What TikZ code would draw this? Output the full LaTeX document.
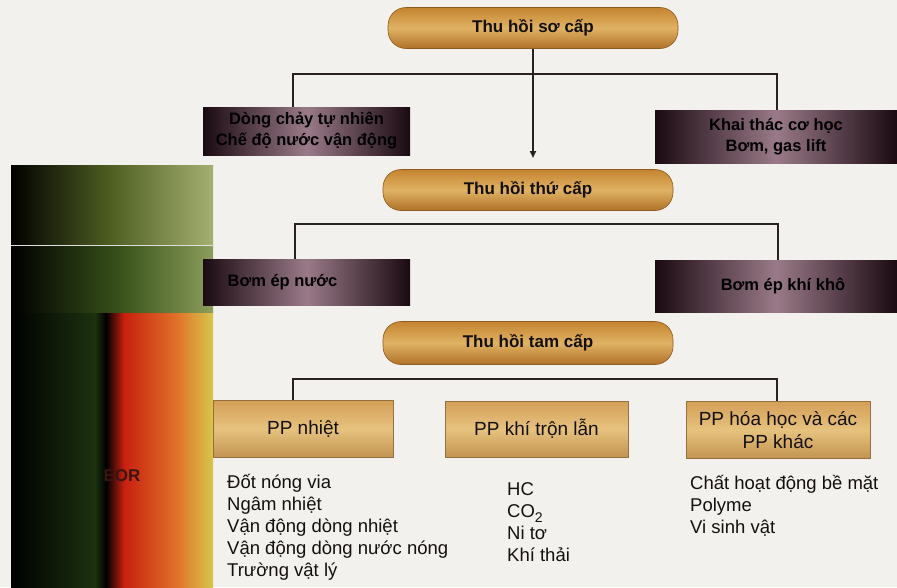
\documentclass[tikz,border=0pt]{standalone}
\usepackage{fontspec}
\setmainfont{Liberation Sans}
\usetikzlibrary{arrows.meta}
\definecolor{bg}{HTML}{F3F1EE}
\definecolor{pillA}{HTML}{C4842F}
\definecolor{pillB}{HTML}{E0B264}
\definecolor{pillC}{HTML}{B07228}
\definecolor{mauve}{HTML}{9A7A88}
\definecolor{darkend}{HTML}{1A0A12}
\definecolor{ppA}{HTML}{D4A058}
\definecolor{ppB}{HTML}{E6C27E}
\definecolor{linec}{HTML}{2A2222}
\definecolor{txt}{HTML}{141010}
\definecolor{olivA}{HTML}{4E5E22}
\definecolor{olivB}{HTML}{A4B070}
\definecolor{greenB}{HTML}{38521A}
\definecolor{greenC}{HTML}{8C9E5C}
\definecolor{dkgreen}{HTML}{1C3210}
\definecolor{redA}{HTML}{C82010}
\definecolor{orangeA}{HTML}{E07028}
\definecolor{yellowA}{HTML}{D8C64C}
\definecolor{eorc}{HTML}{3A1410}
\begin{document}
\begin{tikzpicture}[x=1pt,y=-1pt,
  pill/.style={rounded corners=18pt, top color=pillA, bottom color=pillC, middle color=pillB,
    draw=pillC!80!black, line width=0.6pt, minimum width=290pt, minimum height=41pt,
    font=\fontsize{17}{20}\selectfont\bfseries, text=txt, inner sep=0},
  darkbox/.style={left color=darkend, right color=darkend, middle color=mauve,
    minimum height=48pt, font=\fontsize{16.5}{21}\selectfont\bfseries, inner sep=0,
    align=center, text=black},
  ppbox/.style={top color=ppA, bottom color=ppA!92!black, middle color=ppB,
    draw=ppA!70!black, line width=0.5pt, font=\fontsize{19}{23}\selectfont,
    align=center, inner sep=0, text=txt},
  conn/.style={draw=linec, line width=2pt},
  listtxt/.style={font=\fontsize{18.5}{22}\selectfont, align=left, anchor=north west,
    inner sep=0, text=txt}
]
\useasboundingbox (0,0) rectangle (897,587);
\fill[bg] (0,0) rectangle (897,587);

% left colour panel
\shade[left color=black, right color=olivA] (11,165) rectangle (110,245);
\shade[left color=olivA, right color=olivB] (110,165) rectangle (213,245);
\shade[left color=black, right color=greenB] (11,245) rectangle (120,313);
\shade[left color=greenB, right color=greenC] (120,245) rectangle (213,313);
\draw[white!75!gray, line width=0.8pt] (11,245) -- (213,245);
\shade[left color=black, right color=dkgreen] (11,313) rectangle (95,587);
\shade[left color=dkgreen, right color=black] (95,313) rectangle (106,587);
\shade[left color=black, right color=redA] (106,313) rectangle (124,587);
\shade[left color=redA, right color=orangeA] (124,313) rectangle (176,587);
\shade[left color=orangeA, right color=yellowA] (176,313) rectangle (213,587);
\node[font=\fontsize{17}{20}\selectfont\bfseries, text=eorc, inner sep=0] (eor) at (122,476) {EOR};

% level boxes
\node[pill] (p1) at (533,28) {Thu hồi sơ cấp};
\node[pill] (p2) at (528,190) {Thu hồi thứ cấp};
\node[pill, minimum height=43pt] (p3) at (528,343) {Thu hồi tam cấp};

\node[darkbox, minimum width=207pt] (d1) at (306.5,131) {Dòng chảy tự nhiên\\Chế độ nước vận động};
\node[darkbox, minimum width=242pt, minimum height=53pt] (d2) at (776,136.5) {Khai thác cơ học\\Bơm, gas lift};
\node[darkbox, minimum width=207pt, minimum height=46pt] (d3) at (306.5,282) {Bơm ép nước\hspace*{48pt}};
\node[darkbox, minimum width=242pt, minimum height=52pt] (d4) at (776,286) {\hspace*{14pt}Bơm ép khí khô};

\node[ppbox, minimum width=180pt, minimum height=57pt] (b1) at (303,429) {PP nhiệt};
\node[ppbox, minimum width=183pt, minimum height=56pt] (b2) at (536.5,429) {PP khí trộn lẫn};
\node[ppbox, minimum width=184pt, minimum height=57pt] (b3) at (778,430) {PP hóa học và các\\PP khác};

% connectors
\coordinate (h1l) at (293,74);
\coordinate (h1r) at (777,74);
\coordinate (a1) at (533,158);
\draw[conn] (d1.north -| h1l) -- (h1l) -- (h1r) -- (d2.north -| h1r);
\draw[conn, -{Triangle[length=7pt,width=6pt]}] (p1.south) -- (a1);

\coordinate (h2l) at (295,224);
\coordinate (h2r) at (778,224);
\draw[conn] (d3.north -| h2l) -- (h2l) -- (h2r) -- (d4.north -| h2r);

\coordinate (h3l) at (293,379);
\coordinate (h3r) at (777,379);
\draw[conn] (b1.north -| h3l) -- (h3l) -- (h3r) -- (b3.north -| h3r);

% lists
\node[listtxt] (l1) at (227,474) {Đốt nóng via\\Ngâm nhiệt\\Vận động dòng nhiệt\\Vận động dòng nước nóng\\Trường vật lý};
\node[listtxt] (l2) at (507,482) {HC\\CO\raisebox{-5pt}[0pt][0pt]{\fontsize{14}{14}\selectfont 2}\\Ni tơ\\Khí thải};
\node[listtxt] (l3) at (690,475) {Chất hoạt động bề mặt\\Polyme\\Vi sinh vật};
\end{tikzpicture}
\end{document}
